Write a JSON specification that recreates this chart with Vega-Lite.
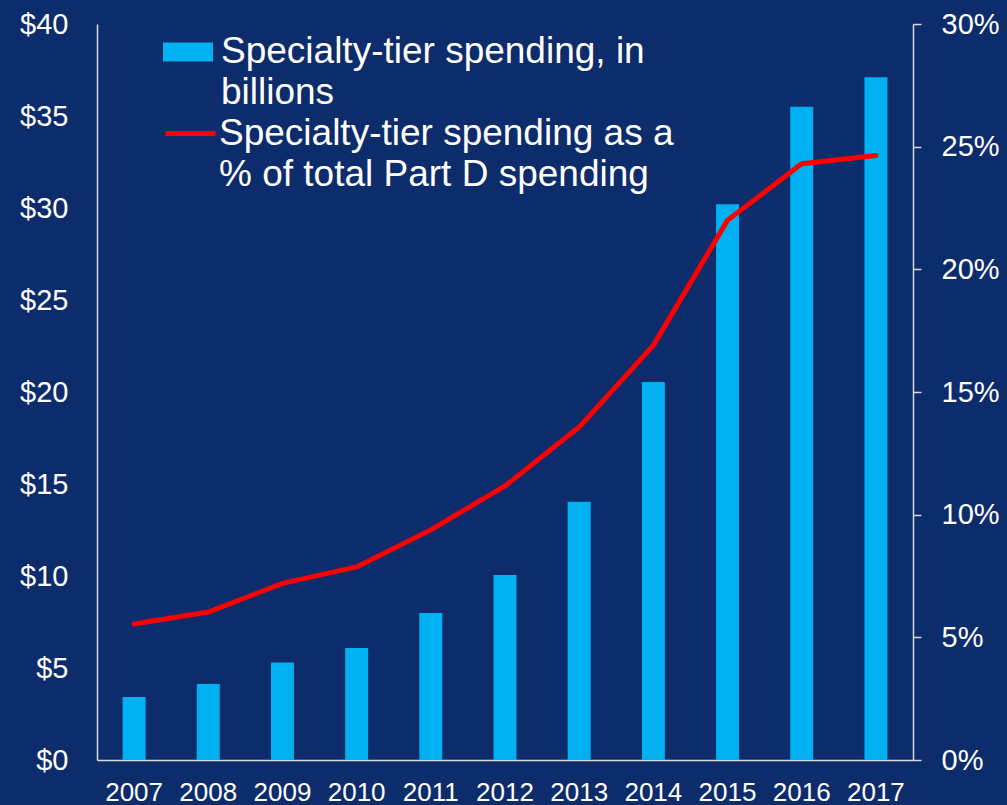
{
  "$schema": "https://vega.github.io/schema/vega-lite/v6.json",
  "width": 816,
  "height": 736,
  "autosize": {"type": "none"},
  "padding": {"left": 97, "top": 24, "right": 94, "bottom": 45},
  "background": "#0d2c6c",
  "config": {
    "view": {"stroke": null},
    "font": "Liberation Sans",
    "style": {"guide-label": {"lineHeight": 41}}
  },
  "data": {
    "values": [
      {"year": "2007", "spending": 3.42, "pct": 0.0554},
      {"year": "2008", "spending": 4.13, "pct": 0.0603},
      {"year": "2009", "spending": 5.3, "pct": 0.072},
      {"year": "2010", "spending": 6.09, "pct": 0.0787},
      {"year": "2011", "spending": 7.99, "pct": 0.0938},
      {"year": "2012", "spending": 10.05, "pct": 0.1117},
      {"year": "2013", "spending": 14.03, "pct": 0.1357},
      {"year": "2014", "spending": 20.55, "pct": 0.169},
      {"year": "2015", "spending": 30.2, "pct": 0.22},
      {"year": "2016", "spending": 35.5, "pct": 0.243},
      {"year": "2017", "spending": 37.1, "pct": 0.2464}
    ]
  },
  "encoding": {
    "x": {
      "field": "year",
      "type": "ordinal",
      "scale": {"paddingInner": 0.69, "paddingOuter": 0.345},
      "axis": {
        "title": null,
        "labelAngle": 0,
        "ticks": false,
        "domainColor": "#d9d9d9",
        "domainWidth": 1.5,
        "labelColor": "#ffffff",
        "labelFontSize": 26,
        "labelPadding": 19
      }
    }
  },
  "layer": [
    {
      "mark": {"type": "bar"},
      "encoding": {
        "y": {
          "field": "spending",
          "type": "quantitative",
          "scale": {"domain": [0, 40]},
          "axis": {
            "title": null,
            "values": [0, 5, 10, 15, 20, 25, 30, 35, 40],
            "labelExpr": "'$' + datum.value",
            "grid": false,
            "ticks": false,
            "domainColor": "#d9d9d9",
            "domainWidth": 1.5,
            "labelColor": "#ffffff",
            "labelFontSize": 29,
            "labelPadding": 29
          }
        },
        "fill": {
          "datum": "Specialty-tier spending, in|billions",
          "type": "nominal",
          "scale": {"range": ["#00b0f0"]},
          "legend": {
            "title": null,
            "orient": "none",
            "legendX": 66,
            "legendY": 3,
            "padding": 0,
            "symbolType": "M-1,-0.38H1V0.38H-1Z",
            "symbolSize": 2500,
            "symbolStrokeWidth": 0,
            "symbolOpacity": 1,
            "labelExpr": "split(datum.label, '|')",
            "labelFontSize": 37,
            "labelColor": "#ffffff",
            "labelLimit": 800,
            "labelOffset": 8,
            "labelBaseline": "middle"
          }
        }
      }
    },
    {
      "mark": {"type": "line", "strokeWidth": 5, "strokeCap": "round", "strokeJoin": "round"},
      "encoding": {
        "y": {
          "field": "pct",
          "type": "quantitative",
          "scale": {"domain": [0, 0.3]},
          "axis": {
            "title": null,
            "orient": "right",
            "values": [0, 0.05, 0.1, 0.15, 0.2, 0.25, 0.3],
            "format": ".0%",
            "grid": false,
            "ticks": true,
            "tickSize": 8,
            "tickColor": "#d9d9d9",
            "tickWidth": 1.5,
            "domainColor": "#d9d9d9",
            "domainWidth": 1.5,
            "labelColor": "#ffffff",
            "labelFontSize": 29,
            "labelPadding": 20
          }
        },
        "stroke": {
          "datum": "Specialty-tier spending as a|% of total Part D spending",
          "type": "nominal",
          "scale": {"range": ["#ff0000"]},
          "legend": {
            "title": null,
            "orient": "none",
            "legendX": 66,
            "legendY": 82,
            "padding": 0,
            "symbolType": "stroke",
            "symbolSize": 2500,
            "symbolStrokeWidth": 5,
            "labelExpr": "split(datum.label, '|')",
            "labelFontSize": 37,
            "labelColor": "#ffffff",
            "labelLimit": 800,
            "labelOffset": 1,
            "labelBaseline": "middle"
          }
        }
      }
    }
  ],
  "resolve": {"scale": {"y": "independent"}}
}
